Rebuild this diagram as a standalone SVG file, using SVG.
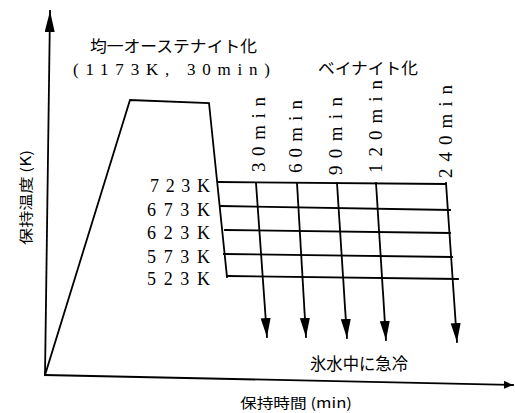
<svg xmlns="http://www.w3.org/2000/svg" width="515" height="413" viewBox="0 0 515 413">
<style>
.ln{fill:none;stroke:#000;stroke-width:1.8;stroke-linecap:square}
.jp{font-family:"Noto Sans CJK JP","Noto Sans",sans-serif;fill:#000}
.sr{font-family:"Liberation Serif","Noto Sans CJK JP",serif;fill:#000}
</style>
<defs>
<marker id="ah" markerUnits="userSpaceOnUse" markerWidth="20" markerHeight="12" refX="19" refY="5" orient="auto">
<path d="M0,0 L19,5 L0,10 Z" fill="#000"/>
</marker>
<marker id="axh" markerUnits="userSpaceOnUse" markerWidth="22" markerHeight="12" refX="21" refY="5" orient="auto">
<path d="M0,0 L21,5 L0,10 Z" fill="#000"/>
</marker>
<marker id="axs" markerUnits="userSpaceOnUse" markerWidth="10" markerHeight="10" refX="9" refY="4" orient="auto">
<path d="M0,0 L9,4 L0,8 Z" fill="#000"/>
</marker>
</defs>
<g id="axes">
<line class="ln" x1="45" y1="375" x2="50" y2="11" marker-end="url(#axh)"/>
<line class="ln" x1="45" y1="375" x2="513" y2="385" marker-end="url(#axs)"/>
</g>
<g id="heat-profile">
<polyline class="ln" points="45,375 130,100 209,103 227,277"/>
</g>
<g id="isotherms">
<line class="ln" x1="218" y1="182" x2="446" y2="184"/>
<line class="ln" x1="220" y1="206" x2="450" y2="210"/>
<line class="ln" x1="225" y1="230" x2="450" y2="233"/>
<line class="ln" x1="224" y1="254" x2="452" y2="257"/>
<line class="ln" x1="227" y1="276" x2="458" y2="279"/>
</g>
<g id="connectors">
<line class="ln" x1="256" y1="183" x2="267" y2="337" marker-end="url(#ah)"/>
<line class="ln" x1="297" y1="183" x2="306" y2="337" marker-end="url(#ah)"/>
<line class="ln" x1="337" y1="183" x2="347" y2="338" marker-end="url(#ah)"/>
<line class="ln" x1="376" y1="183" x2="386" y2="340" marker-end="url(#ah)"/>
<line class="ln" x1="446" y1="183" x2="457" y2="342" marker-end="url(#ah)"/>
</g>
<g id="labels">
<text class="jp" x="90" y="52" font-size="16" textLength="167" lengthAdjust="spacingAndGlyphs">均一オーステナイト化</text>
<text class="sr" x="73" y="75" font-size="17" textLength="197" lengthAdjust="spacing">(1173K, 30min)</text>
<text class="jp" x="318" y="74" font-size="16" textLength="100" lengthAdjust="spacingAndGlyphs">ベイナイト化</text>
<text class="sr" x="150" y="192" font-size="18" textLength="60" lengthAdjust="spacing">723K</text>
<text class="sr" x="147" y="216" font-size="18" textLength="63" lengthAdjust="spacing">673K</text>
<text class="sr" x="147" y="239" font-size="18" textLength="63" lengthAdjust="spacing">623K</text>
<text class="sr" x="147" y="263" font-size="18" textLength="63" lengthAdjust="spacing">573K</text>
<text class="sr" x="147" y="285" font-size="18" textLength="63" lengthAdjust="spacing">523K</text>
<text class="sr" font-size="19" transform="translate(265,172) rotate(-90)" textLength="75" lengthAdjust="spacing">30min</text>
<text class="sr" font-size="19" transform="translate(302,173) rotate(-90)" textLength="73" lengthAdjust="spacing">60min</text>
<text class="sr" font-size="19" transform="translate(342,175) rotate(-90)" textLength="78" lengthAdjust="spacing">90min</text>
<text class="sr" font-size="19" transform="translate(382,173) rotate(-90)" textLength="93" lengthAdjust="spacing">120min</text>
<text class="sr" font-size="19" transform="translate(452,178) rotate(-90)" textLength="93" lengthAdjust="spacing">240min</text>
<text class="jp" x="310" y="370" font-size="17" textLength="98" lengthAdjust="spacingAndGlyphs">氷水中に急冷</text>
<text class="jp" x="240" y="408" font-size="14" textLength="112" lengthAdjust="spacingAndGlyphs">保持時間 (min)</text>
<text class="jp" font-size="14" transform="translate(31,245) rotate(-90)" textLength="95" lengthAdjust="spacingAndGlyphs">保持温度 (K)</text>
</g>
</svg>
